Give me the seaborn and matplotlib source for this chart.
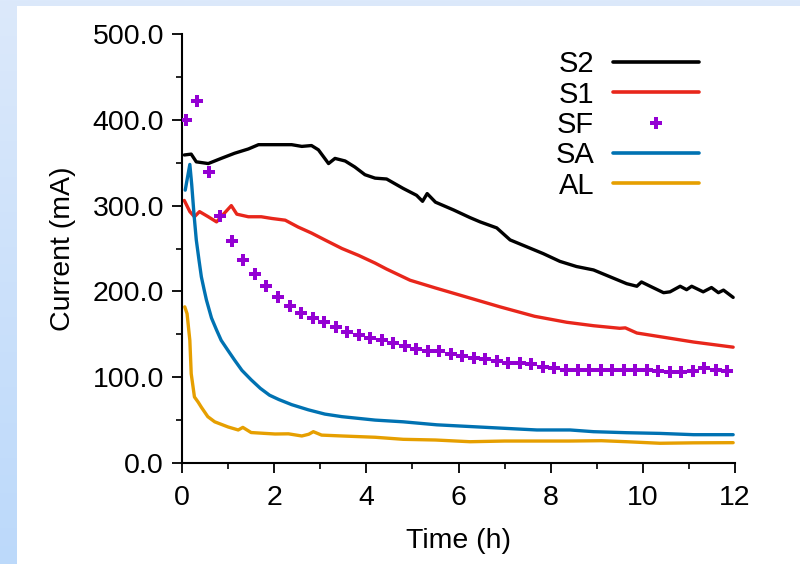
import numpy as np
import pandas as pd
import matplotlib
matplotlib.use("Agg")
import matplotlib.pyplot as plt
import seaborn as sns
from matplotlib.patches import Rectangle
from matplotlib.lines import Line2D
from matplotlib.ticker import MultipleLocator, FormatStrFormatter

# === Data === #
t_s2 = [0.05, 0.2, 0.31, 0.57, 0.85, 1.14, 1.44, 1.66, 2.02, 2.38, 2.6, 2.81, 2.96, 3.18,
        3.32, 3.54, 3.75, 3.97, 4.19, 4.44, 4.80, 5.09, 5.22, 5.32, 5.5, 5.89, 6.25, 6.47,
        6.83, 7.12, 7.48, 7.84, 8.2, 8.56, 8.93, 9.29, 9.65, 9.87, 9.97, 10.16, 10.45,
        10.59, 10.81, 10.95, 11.06, 11.31, 11.49, 11.64, 11.75, 11.96]
v_s2 = [359, 360, 351, 349, 355, 361, 366, 371, 371, 371, 369, 370, 365, 349,
        355, 352, 345, 336, 332, 331, 320, 312, 305, 314, 304, 295, 286, 281,
        274, 260, 252, 244, 235, 229, 225, 217, 209, 206, 211, 206, 198.5,
        199.5, 206, 202, 206, 199.5, 204.5, 198.5, 201.5, 193]

t_s1 = [0.05, 0.17, 0.27, 0.38, 0.57, 0.75, 0.9, 1.07, 1.19, 1.44, 1.72, 1.95, 2.24,
        2.52, 2.81, 3.10, 3.47, 3.83, 4.19, 4.44, 4.95, 5.5, 6.2, 6.9, 7.65, 8.35,
        8.93, 9.5, 9.62, 9.87, 10.4, 11.1, 11.96]
v_s1 = [306, 293, 287, 293, 287, 281, 290, 300, 290, 287, 287, 285, 283,
        275, 268, 260, 250, 242, 233, 226, 213, 204, 193, 182, 171, 164,
        160, 157, 157.5, 151.5, 147, 141, 135]

t_sf = [0.083 + 0.25 * k for k in range(48)]
v_sf = [400, 422, 339, 288, 259, 237, 220, 206, 194, 183, 175, 169,
        164, 158, 153, 149, 145.5, 143, 139.5, 136, 133, 130, 130.5, 127,
        125, 122, 121, 119, 117, 116, 115, 112, 111, 108.4, 108.4, 108.4,
        108.4, 108.4, 108.4, 108.4, 108.4, 107.6, 106.4, 105.6, 107.6, 111, 108.4, 107.6]

t_sa = [0.07, 0.17, 0.21, 0.26, 0.31, 0.37, 0.42, 0.48, 0.53, 0.64, 0.75, 0.85, 1.0,
        1.14, 1.3, 1.5, 1.7, 1.9, 2.1, 2.38, 2.74, 3.1, 3.47, 3.83, 4.19, 4.8, 5.53,
        6.25, 6.97, 7.7, 8.42, 8.93, 9.65, 10.37, 11.1, 11.96]
v_sa = [318, 348, 325, 290, 260, 236, 217, 202, 190, 169, 155, 143, 131,
        120, 108, 97, 87, 79, 74, 68, 62, 57, 54, 52, 50, 48, 44.5,
        42.5, 40.5, 38.5, 38.5, 36.5, 35.3, 34.5, 33, 33]

t_al = [0.06, 0.11, 0.17, 0.2, 0.27, 0.35, 0.42, 0.56, 0.71, 1.0, 1.22, 1.32, 1.5, 1.8,
        2.02, 2.31, 2.6, 2.75, 2.85, 3.03, 3.47, 4.19, 4.8, 5.5, 6.25, 7.0, 7.7, 8.4,
        9.1, 9.65, 10.37, 11.1, 11.96]
v_al = [182, 174, 143, 104, 77, 71, 65, 54, 48, 42, 38.5, 41.5, 35.5, 34.5,
        33.8, 34, 31.5, 33.5, 36.5, 32.5, 31.5, 30, 27.6, 26.8, 24.8, 25.6, 25.6, 25.6,
        26, 24.8, 23, 23.5, 23.7]

labels = ["S2", "S1", "SF", "SA", "AL"]
colors = {"S2": "black", "S1": "#e8261b", "SF": "#9400d3", "SA": "#0072b2", "AL": "#e69f00"}

# === Style === #
sns.set_style("ticks")
plt.rcParams['font.family'] = ['Liberation Sans', 'DejaVu Sans']
plt.rcParams['text.color'] = 'black'
plt.rcParams['axes.labelcolor'] = 'black'
plt.rcParams['xtick.color'] = 'black'
plt.rcParams['ytick.color'] = 'black'

fig = plt.figure(figsize=(8, 5.64), dpi=100)

# light blue slide background with white panel
bg = fig.add_axes([0, 0, 1, 1], zorder=-1)
grad = np.linspace(0, 1, 256).reshape(-1, 1)
bg.imshow(grad, extent=(0, 1, 0, 1), aspect='auto', origin='upper',
          cmap=sns.blend_palette(['#dce9fb', '#bcd9fa'], as_cmap=True))
bg.add_patch(Rectangle((17 / 800, 0), 1, 1 - 6 / 564, facecolor='white', edgecolor='none'))
bg.set_xlim(0, 1)
bg.set_ylim(0, 1)
bg.axis('off')

ax = fig.add_axes([182 / 800, 1 - 463 / 564, 553 / 800, 429 / 564])
ax.set_facecolor('white')

lw = 2.4
sns.lineplot(x=t_s2, y=v_s2, color=colors["S2"], lw=lw, ax=ax)
sns.lineplot(x=t_s1, y=v_s1, color=colors["S1"], lw=lw, ax=ax)
sns.lineplot(x=t_al, y=v_al, color=colors["AL"], lw=lw, ax=ax)
sns.lineplot(x=t_sa, y=v_sa, color=colors["SA"], lw=lw, ax=ax)
sns.scatterplot(x=t_sf, y=v_sf, color=colors["SF"], marker='P', s=85, linewidth=0, ax=ax, zorder=5)

ax.set_xlim(0, 12)
ax.set_ylim(0, 500)
ax.xaxis.set_major_locator(MultipleLocator(2))
ax.xaxis.set_minor_locator(MultipleLocator(1))
ax.yaxis.set_major_locator(MultipleLocator(100))
ax.yaxis.set_minor_locator(MultipleLocator(50))
ax.yaxis.set_major_formatter(FormatStrFormatter('%.1f'))
ax.tick_params(which='major', length=7, width=1.3, direction='out', labelsize=20.5, pad=6)
ax.tick_params(axis='x', which='major', pad=9)
ax.tick_params(which='minor', length=4, width=1.2, direction='out')
sns.despine(ax=ax)
for side in ['left', 'bottom']:
    ax.spines[side].set_linewidth(1.5)
    ax.spines[side].set_color('black')

ax.set_xlabel("Time (h)", fontsize=20.5, labelpad=12)
ax.set_ylabel("Current (mA)", fontsize=20.5, labelpad=12)

handles = []
for name in labels:
    if name == "SF":
        handles.append(Line2D([], [], ls='none', marker='P', color=colors[name], ms=9, mew=0))
    else:
        handles.append(Line2D([], [], color=colors[name], lw=lw + 0.2))
ax.legend(handles, labels, loc='upper right', bbox_to_anchor=(0.935, 0.962), frameon=False,
          markerfirst=False, fontsize=21, handlelength=2.95, handletextpad=0.65,
          labelspacing=0.08, borderpad=0, borderaxespad=0, numpoints=1)

fig.savefig("out.png", dpi=100)
